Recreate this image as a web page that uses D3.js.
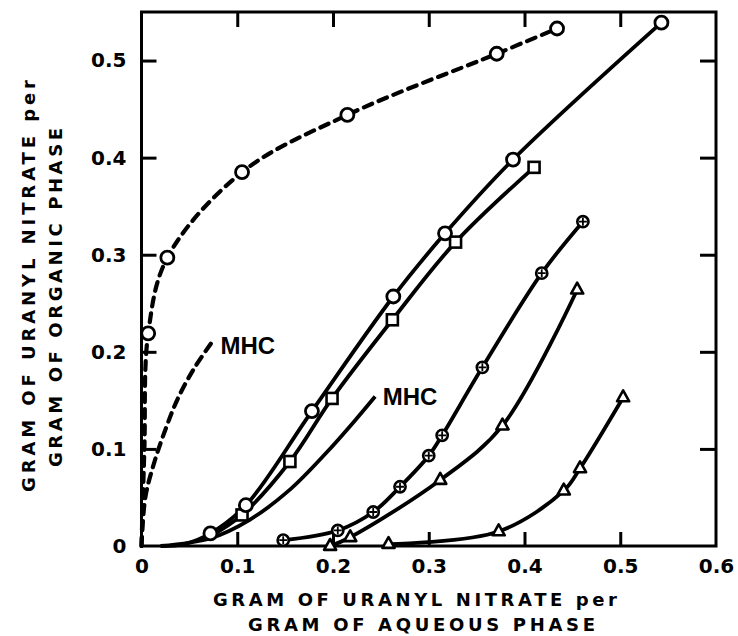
<!DOCTYPE html>
<html><head><meta charset="utf-8">
<script src="https://cdn.jsdelivr.net/npm/d3@7"></script>
<style>html,body{margin:0;padding:0;background:#fff;}</style>
</head><body>
<script>
// ---- data ----
const xTicks = [0, 0.1, 0.2, 0.3, 0.4, 0.5, 0.6];
const yTicks = [0, 0.1, 0.2, 0.3, 0.4, 0.5];

// dashed curve with open circles (first two points unmarked)
const dashedCircles = [[0,0],[0.003,0.10],[0.007,0.219],[0.027,0.297],[0.105,0.385],[0.215,0.444],[0.371,0.507],[0.434,0.533]];
// dashed MHC curve (no markers)
const dashedMHC = [[0,0],[0.004,0.05],[0.013,0.085],[0.025,0.12],[0.038,0.152],[0.055,0.183],[0.075,0.212]];
// solid curve with open circles (first two points unmarked)
const solidCircles = [[0.02,0],[0.045,0.002],[0.072,0.013],[0.109,0.042],[0.178,0.139],[0.263,0.257],[0.317,0.322],[0.388,0.398],[0.543,0.539]];
// solid curve with squares (first point unmarked)
const solidSquares = [[0.072,0.010],[0.105,0.032],[0.155,0.087],[0.199,0.152],[0.262,0.233],[0.328,0.313],[0.410,0.390]];
// solid MHC curve (no markers)
const solidMHC = [[0.02,0],[0.072,0.008],[0.113,0.027],[0.155,0.058],[0.194,0.097],[0.221,0.127],[0.244,0.154]];
// solid curve with crossed circles
const crossedCircles = [[0.148,0.006],[0.205,0.016],[0.242,0.035],[0.270,0.061],[0.300,0.093],[0.314,0.114],[0.356,0.184],[0.418,0.281],[0.461,0.334]];
// solid curve with triangles
const trianglesA = [[0.197,0.0],[0.218,0.009],[0.312,0.068],[0.377,0.124],[0.455,0.264]];
// lower solid curve with triangles
const trianglesB = [[0.258,0.002],[0.373,0.015],[0.441,0.057],[0.458,0.080],[0.503,0.153]];

const series = [
  {pts: dashedCircles, dashed: true, marker: "circle", markFrom: 2},
  {pts: dashedMHC, dashed: true, marker: null, markFrom: 0},
  {pts: solidMHC, dashed: false, marker: null, markFrom: 0},
  {pts: solidSquares, dashed: false, marker: "square", markFrom: 1},
  {pts: solidCircles, dashed: false, marker: "circle", markFrom: 2},
  {pts: crossedCircles, dashed: false, marker: "crossed", markFrom: 0},
  {pts: trianglesA, dashed: false, marker: "triangle", markFrom: 0},
  {pts: trianglesB, dashed: false, marker: "triangle", markFrom: 0}
];

const labels = [
  {text: "MHC", x: 0.0825, y: 0.198},
  {text: "MHC", x: 0.252, y: 0.145}
];

// ---- drawing ----
const W = 738, H = 636;
const svg = d3.select("body").append("svg").attr("width", W).attr("height", H)
  .style("background", "#fff");

const x = d3.scaleLinear().domain([0, 0.6]).range([141.5, 716]);
const y = d3.scaleLinear().domain([0, 0.55]).range([546, 12]);

const fmt = d => d === 0 ? "0" : d3.format(".1f")(d);
const tickFont = "'DejaVu Sans', sans-serif";

// frame
svg.append("rect").attr("x", x(0)).attr("y", y(0.55))
  .attr("width", x(0.6) - x(0)).attr("height", y(0) - y(0.55))
  .attr("fill", "none").attr("stroke", "#000").attr("stroke-width", 3);

function styleAxis(g) {
  g.select(".domain").remove();
  g.selectAll(".tick line").attr("stroke", "#000").attr("stroke-width", 3);
  g.selectAll(".tick text").attr("font-family", tickFont).attr("font-weight", "bold")
    .attr("font-size", 20).attr("fill", "#000");
}

const inner = [0.1, 0.2, 0.3, 0.4, 0.5];
svg.append("g").attr("transform", `translate(0,${y(0)})`)
  .call(d3.axisBottom(x).tickValues(xTicks).tickFormat(fmt).tickSizeInner(-14).tickSizeOuter(0).tickPadding(13))
  .call(styleAxis)
  .call(g => g.selectAll(".tick").filter(d => d === 0 || d === 0.6).select("line").remove());
svg.append("g").attr("transform", `translate(${x(0)},0)`)
  .call(d3.axisLeft(y).tickValues(yTicks).tickFormat(fmt).tickSizeInner(-15).tickSizeOuter(0).tickPadding(15))
  .call(styleAxis)
  .call(g => g.selectAll(".tick").filter(d => d === 0).select("line").remove());
svg.append("g").attr("transform", `translate(0,${y(0.55)})`)
  .call(d3.axisTop(x).tickValues(inner).tickFormat("").tickSizeInner(-15).tickSizeOuter(0))
  .call(styleAxis);
svg.append("g").attr("transform", `translate(${x(0.6)},0)`)
  .call(d3.axisRight(y).tickValues(inner).tickFormat("").tickSizeInner(-16).tickSizeOuter(0))
  .call(styleAxis);

// curves
const line = d3.line().x(d => x(d[0])).y(d => y(d[1])).curve(d3.curveCatmullRom.alpha(0.5));
series.forEach(s => {
  svg.append("path").attr("d", line(s.pts)).attr("fill", "none").attr("stroke", "#000")
    .attr("stroke-width", s.dashed ? 4.2 : 3.8)
    .attr("stroke-dasharray", s.dashed ? "9,7" : null)
    .attr("stroke-linecap", s.dashed ? "round" : "butt");
});

// markers
series.forEach(s => {
  if (!s.marker) return;
  const pts = s.pts.slice(s.markFrom);
  const g = svg.append("g");
  pts.forEach(p => {
    const cx = x(p[0]), cy = y(p[1]);
    if (s.marker === "circle") {
      g.append("circle").attr("cx", cx).attr("cy", cy).attr("r", 6.5)
        .attr("fill", "#fff").attr("stroke", "#000").attr("stroke-width", 2.8);
    } else if (s.marker === "square") {
      g.append("rect").attr("x", cx - 5.5).attr("y", cy - 5.5).attr("width", 11).attr("height", 11)
        .attr("fill", "#fff").attr("stroke", "#000").attr("stroke-width", 2.6);
    } else if (s.marker === "crossed") {
      g.append("circle").attr("cx", cx).attr("cy", cy).attr("r", 5.6)
        .attr("fill", "#fff").attr("stroke", "#000").attr("stroke-width", 2.6);
      g.append("path").attr("d", `M${cx-4},${cy}H${cx+4}M${cx},${cy-4}V${cy+4}`)
        .attr("stroke", "#000").attr("stroke-width", 1.8);
    } else if (s.marker === "triangle") {
      const r = 7;
      g.append("path").attr("d", `M${cx},${cy-r}L${cx+r*0.87},${cy+r*0.55}L${cx-r*0.87},${cy+r*0.55}Z`)
        .attr("fill", "#fff").attr("stroke", "#000").attr("stroke-width", 2.6).attr("stroke-linejoin", "round");
    }
  });
});

// in-plot labels
svg.selectAll("text.mhc").data(labels).enter().append("text").attr("class", "mhc")
  .attr("x", d => x(d.x)).attr("y", d => y(d.y))
  .attr("font-family", "'Liberation Sans', Arial, sans-serif").attr("font-weight", "bold")
  .attr("font-size", 24).attr("fill", "#000").text(d => d.text);

// axis titles
const titleFont = {family: "'DejaVu Sans', sans-serif", size: 18};
function title(txt, tx, ty, len, rot) {
  svg.append("text")
    .attr("transform", rot ? `translate(${tx},${ty}) rotate(-90)` : `translate(${tx},${ty})`)
    .attr("font-family", titleFont.family).attr("font-weight", "bold").attr("font-size", titleFont.size)
    .attr("textLength", len).attr("lengthAdjust", "spacing").attr("fill", "#000").text(txt);
}
title("GRAM OF URANYL NITRATE per", 213, 606, 404, false);
title("GRAM OF AQUEOUS PHASE", 248, 631, 347, false);
title("GRAM OF URANYL NITRATE per", 35, 492, 412, true);
title("GRAM OF ORGANIC PHASE", 62, 467, 339, true);
</script>
</body></html>
